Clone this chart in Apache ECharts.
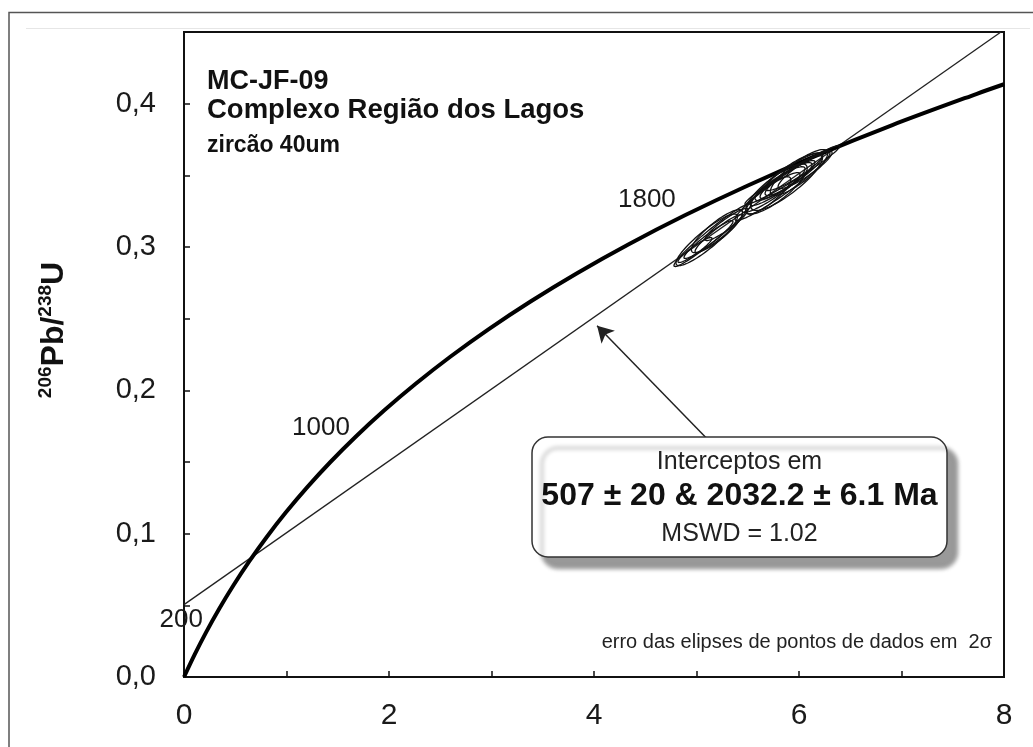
<!DOCTYPE html>
<html>
<head>
<meta charset="utf-8">
<script src="https://cdn.jsdelivr.net/npm/echarts@6/dist/echarts.min.js"></script>
<style>
html,body{margin:0;padding:0;background:#fff;}
#chart{width:1033px;height:747px;}
</style>
</head>
<body>
<div id="chart"></div>
<script>
// ---- data ----
const concordiaAges = [0,100,200,300,400,500,600,700,800,900,1000,1100,1200,1300,1400,1500,1600,1700,1800,1900,2000,2100,2200,2231];
const concordiaX = [0,0.1035,0.2177,0.3437,0.4828,0.6363,0.8056,0.9925,1.1987,1.4263,1.6774,1.9545,2.2603,2.5977,2.9701,3.3810,3.8344,4.3348,4.8869,5.4962,6.1685,6.9105,7.7292,8.0];
const concordiaY = [0,0.01563,0.03151,0.04764,0.06402,0.08065,0.09754,0.11470,0.13213,0.14983,0.16780,0.18606,0.20460,0.22344,0.24256,0.26199,0.28172,0.30176,0.32210,0.34277,0.36377,0.38509,0.40674,0.41354];
const labelledAges = [200,1000,1800];

const discordiaX = [0, 7.97];
const discordiaY = [0.0505, 0.45];

const arrowX = [5.16, 4.03];
const arrowY = [0.162, 0.245];

// error ellipses: centre, half-range in x and y, correlation
const ellX   = [5.156,5.117,5.215,4.985,5.293,5.100,5.200, 5.935,5.839,5.839,5.922,5.951,5.727,6.059,5.815,5.898,5.880,5.780,6.000,5.700];
const ellY   = [0.3084,0.3052,0.3094,0.2979,0.3157,0.3050,0.3110, 0.3502,0.3425,0.3446,0.3488,0.3526,0.3380,0.3540,0.3442,0.3474,0.3455,0.3405,0.3520,0.3360];
const ellSX  = [0.376,0.239,0.229,0.166,0.210,0.300,0.250, 0.462,0.463,0.317,0.302,0.283,0.283,0.263,0.244,0.229,0.350,0.300,0.280,0.220];
const ellSY  = [0.0220,0.0132,0.0132,0.0087,0.0112,0.0180,0.0150, 0.0206,0.0240,0.0157,0.0150,0.0132,0.0139,0.0132,0.0118,0.0115,0.0200,0.0175,0.0160,0.0130];
const ellRho = [0.97,0.95,0.94,0.93,0.92,0.90,0.86, 0.975,0.96,0.93,0.92,0.90,0.92,0.90,0.88,0.88,0.85,0.83,0.84,0.85];

const xTickLabels = ['0','2','4','6','8'];
const yTickLabels = ['0,0','0,1','0,2','0,3','0,4'];
const titleLines = ['MC-JF-09','Complexo Região dos Lagos','zircão 40um'];
const boxLines = ['Interceptos em','507 ± 20 & 2032.2 ± 6.1 Ma','MSWD = 1.02'];
const noteText = 'erro das elipses de pontos de dados em  2σ';
const yAxisTitle = ['206','Pb/','238','U'];

// ---- chart ----
const FONT = '"Liberation Sans", Arial, Helvetica, sans-serif';
const chart = echarts.init(document.getElementById('chart'), null, {renderer:'canvas'});

const concordiaData = concordiaX.map((x,i)=>[x, concordiaY[i]]);
const ageLabelOffsets = {200:[-25,-12], 1000:[-35,-9], 1800:[-38,-15]};
const ageLabelData = labelledAges.map(a=>{
  const i = concordiaAges.indexOf(a);
  return {value:[concordiaX[i], concordiaY[i]], label:{show:true, formatter:String(a), offset:ageLabelOffsets[a]}};
});
const ellipseData = ellX.map((x,i)=>[x, ellY[i], ellSX[i], ellSY[i], ellRho[i]]);

function xLabel(v){ const k = Math.round(v); if (Math.abs(v-k)<1e-6 && k%2===0) return xTickLabels[k/2]; return ''; }
function yLabel(v){ const k = Math.round(v*10); if (Math.abs(v*10-k)<1e-6 && k>=0 && k<yTickLabels.length) return yTickLabels[k]; return ''; }

const option = {
  animation:false,
  backgroundColor:'#fff',
  textStyle:{fontFamily:FONT},
  grid:{left:184, right:29, top:32, bottom:70, show:true, borderColor:'#111', borderWidth:2, backgroundColor:'transparent', outerBoundsMode:'none'},
  xAxis:{
    type:'value', min:0, max:8, interval:1,
    axisLine:{show:true, lineStyle:{color:'#111', width:2}},
    axisTick:{show:true, inside:true, length:6, lineStyle:{color:'#111', width:1.5}},
    axisLabel:{formatter:xLabel, fontSize:30, color:'#1a1a1a', margin:24, fontFamily:FONT, showMaxLabel:true, showMinLabel:true},
    splitLine:{show:false}
  },
  yAxis:{
    type:'value', min:0, max:0.45, interval:0.05,
    axisLine:{show:true, lineStyle:{color:'#111', width:2}},
    axisTick:{show:true, inside:true, length:6, lineStyle:{color:'#111', width:1.5}},
    axisLabel:{formatter:yLabel, fontSize:29, color:'#1a1a1a', margin:28, fontFamily:FONT},
    splitLine:{show:false}
  },
  series:[
    {
      type:'line', name:'discordia', data:discordiaX.map((x,i)=>[x, discordiaY[i]]),
      showSymbol:false, symbol:'none', lineStyle:{color:'#222', width:1.3}, z:2, silent:true,
      markLine:{
        silent:true, symbol:['none','arrow'], symbolSize:[14,16],
        lineStyle:{color:'#222', width:1.5, type:'solid'},
        label:{show:false},
        data:[[{coord:[arrowX[0], arrowY[0]]},{coord:[arrowX[1], arrowY[1]]}]]
      }
    },
    {
      type:'line', name:'concordia', data:concordiaData, smooth:0.3,
      showSymbol:false, symbol:'none', lineStyle:{color:'#000', width:4}, z:3, silent:true
    },
    {
      type:'custom', name:'ellipses', data:ellipseData, z:4, silent:true, clip:true,
      encode:{x:0, y:1},
      renderItem:function(params, api){
        const cx=api.value(0), cy=api.value(1), sx=api.value(2), sy=api.value(3), r=api.value(4);
        const q = Math.sqrt(1-r*r);
        const pts=[];
        for(let k=0;k<90;k++){
          const t = 2*Math.PI*k/90;
          pts.push(api.coord([cx+sx*Math.cos(t), cy+sy*(r*Math.cos(t)+q*Math.sin(t))]));
        }
        return {type:'polygon', shape:{points:pts}, style:{fill:'none', stroke:'#111', lineWidth:1.3}};
      }
    },
    {
      type:'scatter', name:'ages', data:ageLabelData, symbolSize:0, z:5, silent:true, clip:false,
      itemStyle:{opacity:1},
      label:{show:true, position:'inside', fontSize:26, color:'#1a1a1a', fontFamily:FONT}
    }
  ],
  graphic:[
    {type:'rect', shape:{x:9, y:12.5, width:1040, height:760}, style:{fill:'none', stroke:'#555', lineWidth:1.5}, z:-10, silent:true},
    {type:'line', shape:{x1:26, y1:28.5, x2:1030, y2:28.5}, style:{stroke:'#e6e6e6', lineWidth:1}, z:-10, silent:true},
    {type:'text', x:207, y:82, style:{text:titleLines[0], font:'bold 27px '+FONT, fill:'#111', verticalAlign:'middle', align:'left'}, z:10},
    {type:'text', x:207, y:110, style:{text:titleLines[1], font:'bold 27.5px '+FONT, fill:'#111', verticalAlign:'middle', align:'left'}, z:10},
    {type:'text', x:207, y:146, style:{text:titleLines[2], font:'bold 23px '+FONT, fill:'#111', verticalAlign:'middle', align:'left'}, z:10},
    {type:'rect', shape:{x:532, y:437, width:415, height:120, r:16},
      style:{fill:'#fff', stroke:'#333', lineWidth:1.5, shadowColor:'rgba(0,0,0,0.4)', shadowBlur:4, shadowOffsetX:10, shadowOffsetY:11}, z:20},
    {type:'text', x:739.5, y:462, style:{text:boxLines[0], font:'25px '+FONT, fill:'#222', align:'center', verticalAlign:'middle'}, z:21},
    {type:'text', x:739.5, y:496, style:{text:boxLines[1], font:'bold 32px '+FONT, fill:'#111', align:'center', verticalAlign:'middle'}, z:21},
    {type:'text', x:739.5, y:534, style:{text:boxLines[2], font:'25px '+FONT, fill:'#222', align:'center', verticalAlign:'middle'}, z:21},
    {type:'text', x:992, y:642, style:{text:noteText, font:'20px '+FONT, fill:'#222', align:'right', verticalAlign:'middle'}, z:10},
    {type:'text', x:53, y:330, rotation:Math.PI/2,
      style:{
        text:'{s|'+yAxisTitle[0]+'}{m|'+yAxisTitle[1]+'}{s|'+yAxisTitle[2]+'}{m|'+yAxisTitle[3]+'}',
        align:'center', verticalAlign:'middle',
        rich:{
          s:{fontFamily:FONT, fontWeight:'bold', fontSize:19, fill:'#111', verticalAlign:'top', lineHeight:34},
          m:{fontFamily:FONT, fontWeight:'bold', fontSize:32, fill:'#111', verticalAlign:'bottom', lineHeight:34}
        }
      }, z:10}
  ]
};
chart.setOption(option);
</script>
</body>
</html>
